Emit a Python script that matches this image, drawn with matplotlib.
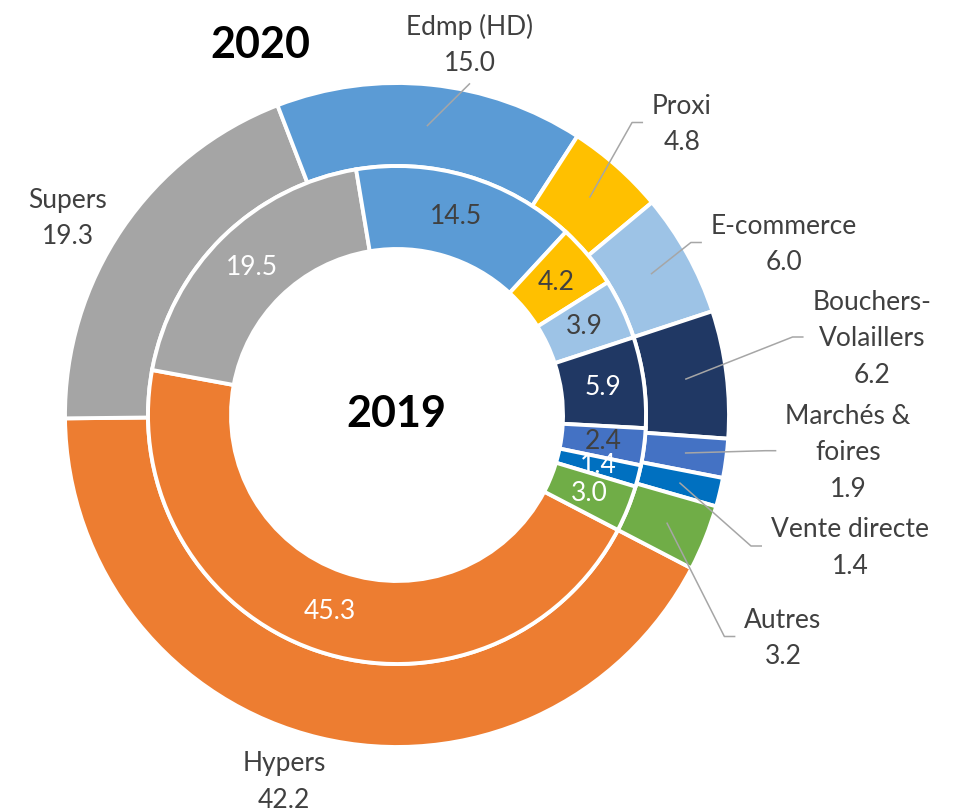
import matplotlib
matplotlib.use("Agg")
import matplotlib.pyplot as plt
import numpy as np

# ---------------- data ----------------
categories = ["Hypers", "Supers", "Edmp (HD)", "Proxi", "E-commerce",
              "Bouchers-\nVolaillers", "Marchés &\nfoires", "Vente directe", "Autres"]
values_2020 = [42.2, 19.3, 15.0, 4.8, 6.0, 6.2, 1.9, 1.4, 3.2]
values_2019 = [45.3, 19.5, 14.5, 4.2, 3.9, 5.9, 2.4, 1.4, 3.0]
colors = ["#ED7D31", "#A5A5A5", "#5B9BD5", "#FFC000", "#9DC3E6",
          "#203864", "#4472C4", "#0070C0", "#70AD47"]
inner_label_colors = ["white", "white", "#404040", "#404040", "#404040",
                      "white", "#404040", "white", "white"]
title_outer = "2020"
title_inner = "2019"

# ---------------- layout (reference pixels) ----------------
W, H = 956, 809
CX, CY = 397, 415          # pie centre in pixels (from top-left)
R = 330.0                  # outer radius in pixels
PX = 1.0 / R
DY = 2                     # small vertical text correction (px)

def P(x, y):
    """pixel (from top-left) -> data coords"""
    return ((x - CX) * PX, (CY - y) * PX)

# label block centres and leader style
outer_label_pos = [(284, 780), (68, 216.5), (470, 43), (682, 122.5), (784, 242.5),
                   (872, 337), (848, 450.7), (850, 546), (783, 636.5)]
leader_style = [None, None, "below", "right", "right", "right", "right", "right", "right"]

FONT = "Lato"
TXT = "#404040"
LEAD = "#A6A6A6"
FS = 19

fig = plt.figure(figsize=(W / 100, H / 100), dpi=100)
ax = fig.add_axes([0, 0, 1, 1])

START = -27.5
edge = dict(edgecolor="white", linewidth=2.8)
ax.pie(values_2020, radius=332 / R, colors=colors, startangle=START,
       counterclock=False, wedgeprops=dict(width=83 / R, **edge))
ax.pie(values_2019, radius=249 / R, colors=colors, startangle=START,
       counterclock=False, wedgeprops=dict(width=83 / R, **edge))

ax.set_xlim(-CX * PX, (W - CX) * PX)
ax.set_ylim(-(H - CY) * PX, CY * PX)
ax.set_aspect("auto")
ax.axis("off")

def mid_angles(vals):
    tot = float(sum(vals))
    cum = np.cumsum([0] + list(vals))[:-1]
    return [np.deg2rad(START - 360.0 * (c + v / 2.0) / tot) for c, v in zip(cum, vals)]

# inner ring value labels
r_in = 207.5 / R
for a, v, c in zip(mid_angles(values_2019), values_2019, inner_label_colors):
    ax.text(r_in * np.cos(a), r_in * np.sin(a), f"{v:.1f}", ha="center", va="center",
            color=c, fontsize=FS, family=FONT)

# outer labels
texts = []
for name, v, pos in zip(categories, values_2020, outer_label_pos):
    x, y = P(pos[0], pos[1] + DY)
    t = ax.text(x, y, f"{name}\n{v:.1f}", ha="center", va="center", color=TXT,
                fontsize=FS, family=FONT, linespacing=1.58, multialignment="center")
    texts.append(t)

# titles
ax.text(*P(260, 43 + DY), title_outer, ha="center", va="center", fontsize=31,
        fontweight="bold", family=FONT, color="black")
ax.text(*P(396, 412 + DY), title_inner, ha="center", va="center", fontsize=31,
        fontweight="bold", family=FONT, color="black")

# leader lines
fig.canvas.draw()
rend = fig.canvas.get_renderer()
inv = ax.transData.inverted()
r_anchor = 0.88
for a, t, style, pos in zip(mid_angles(values_2020), texts, leader_style, outer_label_pos):
    if style is None:
        continue
    ax0 = r_anchor * np.cos(a)
    ay0 = r_anchor * np.sin(a)
    bb = t.get_window_extent(rend).transformed(inv)
    ly = P(*pos)[1]
    if style == "right":
        ex = bb.x0 - 9 * PX
        xs = [ax0, ex - 11 * PX, ex]
        ys = [ay0, ly, ly]
    else:
        xs = [ax0, P(*pos)[0]]
        ys = [ay0, bb.y0 - 7 * PX]
    ax.plot(xs, ys, color=LEAD, lw=1.1, solid_capstyle="butt")

fig.savefig("out.png", dpi=100)
